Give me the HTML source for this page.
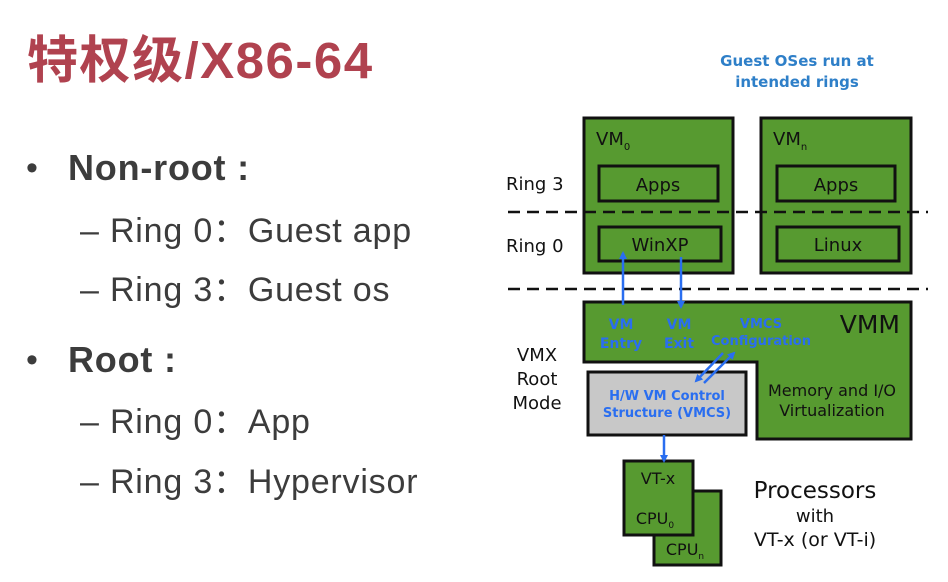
<!DOCTYPE html>
<html><head><meta charset="utf-8"><style>
body{margin:0;width:948px;height:582px;background:#fff;position:relative;overflow:hidden;font-family:"Liberation Sans","Noto Sans CJK SC",sans-serif}
.t{position:absolute;white-space:nowrap}
.s{font-size:34px;color:#3c3c3c;line-height:40px;letter-spacing:0.8px}
</style></head><body>
<div class="t" style="left:27px;top:31px;font-size:51px;font-weight:bold;color:#b0424f;line-height:60px;letter-spacing:1.5px">特权级/X86-64</div>
<div class="t" style="left:26px;top:148px;font-size:34px;color:#3c3c3c;line-height:40px">•</div>
<div class="t" style="left:68px;top:148px;font-size:36px;font-weight:bold;color:#3c3c3c;line-height:40px;letter-spacing:0.8px">Non-root :</div>
<div class="t s" style="left:80px;top:211px">– Ring 0：Guest app</div>
<div class="t s" style="left:80px;top:270px">– Ring 3：Guest os</div>
<div class="t" style="left:26px;top:340px;font-size:34px;color:#3c3c3c;line-height:40px">•</div>
<div class="t" style="left:68px;top:340px;font-size:36px;font-weight:bold;color:#3c3c3c;line-height:40px;letter-spacing:0.8px">Root :</div>
<div class="t s" style="left:80px;top:402px">– Ring 0：App</div>
<div class="t s" style="left:80px;top:462px">– Ring 3：Hypervisor</div>
<svg width="948" height="582" style="position:absolute;left:0;top:0" font-family="DejaVu Sans, sans-serif">
<defs><marker id="a" markerWidth="8" markerHeight="8" refX="6" refY="4" orient="auto" markerUnits="userSpaceOnUse"><path d="M0,0 L8,4 L0,8 z" fill="#2a6ef0"/></marker></defs>
<text x="797" y="66" text-anchor="middle" font-size="15" font-weight="bold" fill="#2e7fc8">Guest OSes run at</text>
<text x="797" y="87" text-anchor="middle" font-size="15" font-weight="bold" fill="#2e7fc8">intended rings</text>
<g stroke="#111" stroke-width="3" fill="#579a30">
<rect x="584" y="118" width="149" height="155"/>
<rect x="761" y="118" width="150" height="155"/>
<rect x="599" y="166" width="119" height="35"/>
<rect x="599" y="227" width="122" height="34"/>
<rect x="777" y="166" width="118" height="35"/>
<rect x="777" y="227" width="122" height="34"/>
<path d="M584,302 H911 V439 H757 V362 H584 Z"/>
<rect x="588" y="372" width="158" height="63" fill="#c8c8c8"/>
<rect x="654" y="491" width="67" height="74"/>
<rect x="624" y="461" width="69" height="74"/>
</g>
<g stroke="#111" stroke-width="2.5" stroke-dasharray="12,7">
<line x1="508" y1="212" x2="928" y2="212"/>
<line x1="508" y1="289" x2="928" y2="289"/>
</g>
<g font-size="18" fill="#111">
<text x="506" y="190">Ring 3</text>
<text x="506" y="252">Ring 0</text>
<text x="596" y="145">VM<tspan font-size="10" dy="5">0</tspan></text>
<text x="773" y="145">VM<tspan font-size="10" dy="5">n</tspan></text>
<text x="658" y="191" text-anchor="middle">Apps</text>
<text x="660" y="251" text-anchor="middle">WinXP</text>
<text x="836" y="191" text-anchor="middle">Apps</text>
<text x="838" y="251" text-anchor="middle">Linux</text>
<text x="537" y="361" text-anchor="middle">VMX</text>
<text x="537" y="385" text-anchor="middle">Root</text>
<text x="537" y="409" text-anchor="middle">Mode</text>
<text x="832" y="396" text-anchor="middle" font-size="16">Memory and I/O</text>
<text x="832" y="416" text-anchor="middle" font-size="16">Virtualization</text>
<text x="658" y="484" text-anchor="middle" font-size="16">VT-x</text>
<text x="655" y="524" text-anchor="middle" font-size="16">CPU<tspan font-size="9" dy="4">0</tspan></text>
<text x="685" y="555" text-anchor="middle" font-size="16">CPU<tspan font-size="9" dy="4">n</tspan></text>
<text x="815" y="498" text-anchor="middle" font-size="23">Processors</text>
<text x="815" y="522" text-anchor="middle">with</text>
<text x="815" y="546" text-anchor="middle" font-size="19">VT-x (or VT-i)</text>
<text x="900" y="333" text-anchor="end" font-size="25">VMM</text>
</g>
<g font-size="14" font-weight="bold" fill="#2a6ef0" text-anchor="middle">
<text x="621" y="329">VM</text><text x="621" y="348">Entry</text>
<text x="679" y="329">VM</text><text x="679" y="348">Exit</text>
<text x="761" y="328" font-size="13">VMCS</text><text x="761" y="345" font-size="13">Configuration</text>
<text x="667" y="400" font-size="13">H/W VM Control</text><text x="667" y="417" font-size="13">Structure (VMCS)</text>
</g>
<g stroke="#2a6ef0" stroke-width="2.5" fill="none" marker-end="url(#a)">
<line x1="623" y1="305" x2="623" y2="253"/>
<line x1="681" y1="257" x2="681" y2="307"/>
<line x1="723" y1="353" x2="696" y2="381"/>
<line x1="704" y1="383" x2="734" y2="353"/>
<line x1="664" y1="435" x2="664" y2="461"/>
</g>
</svg>
</body></html>
